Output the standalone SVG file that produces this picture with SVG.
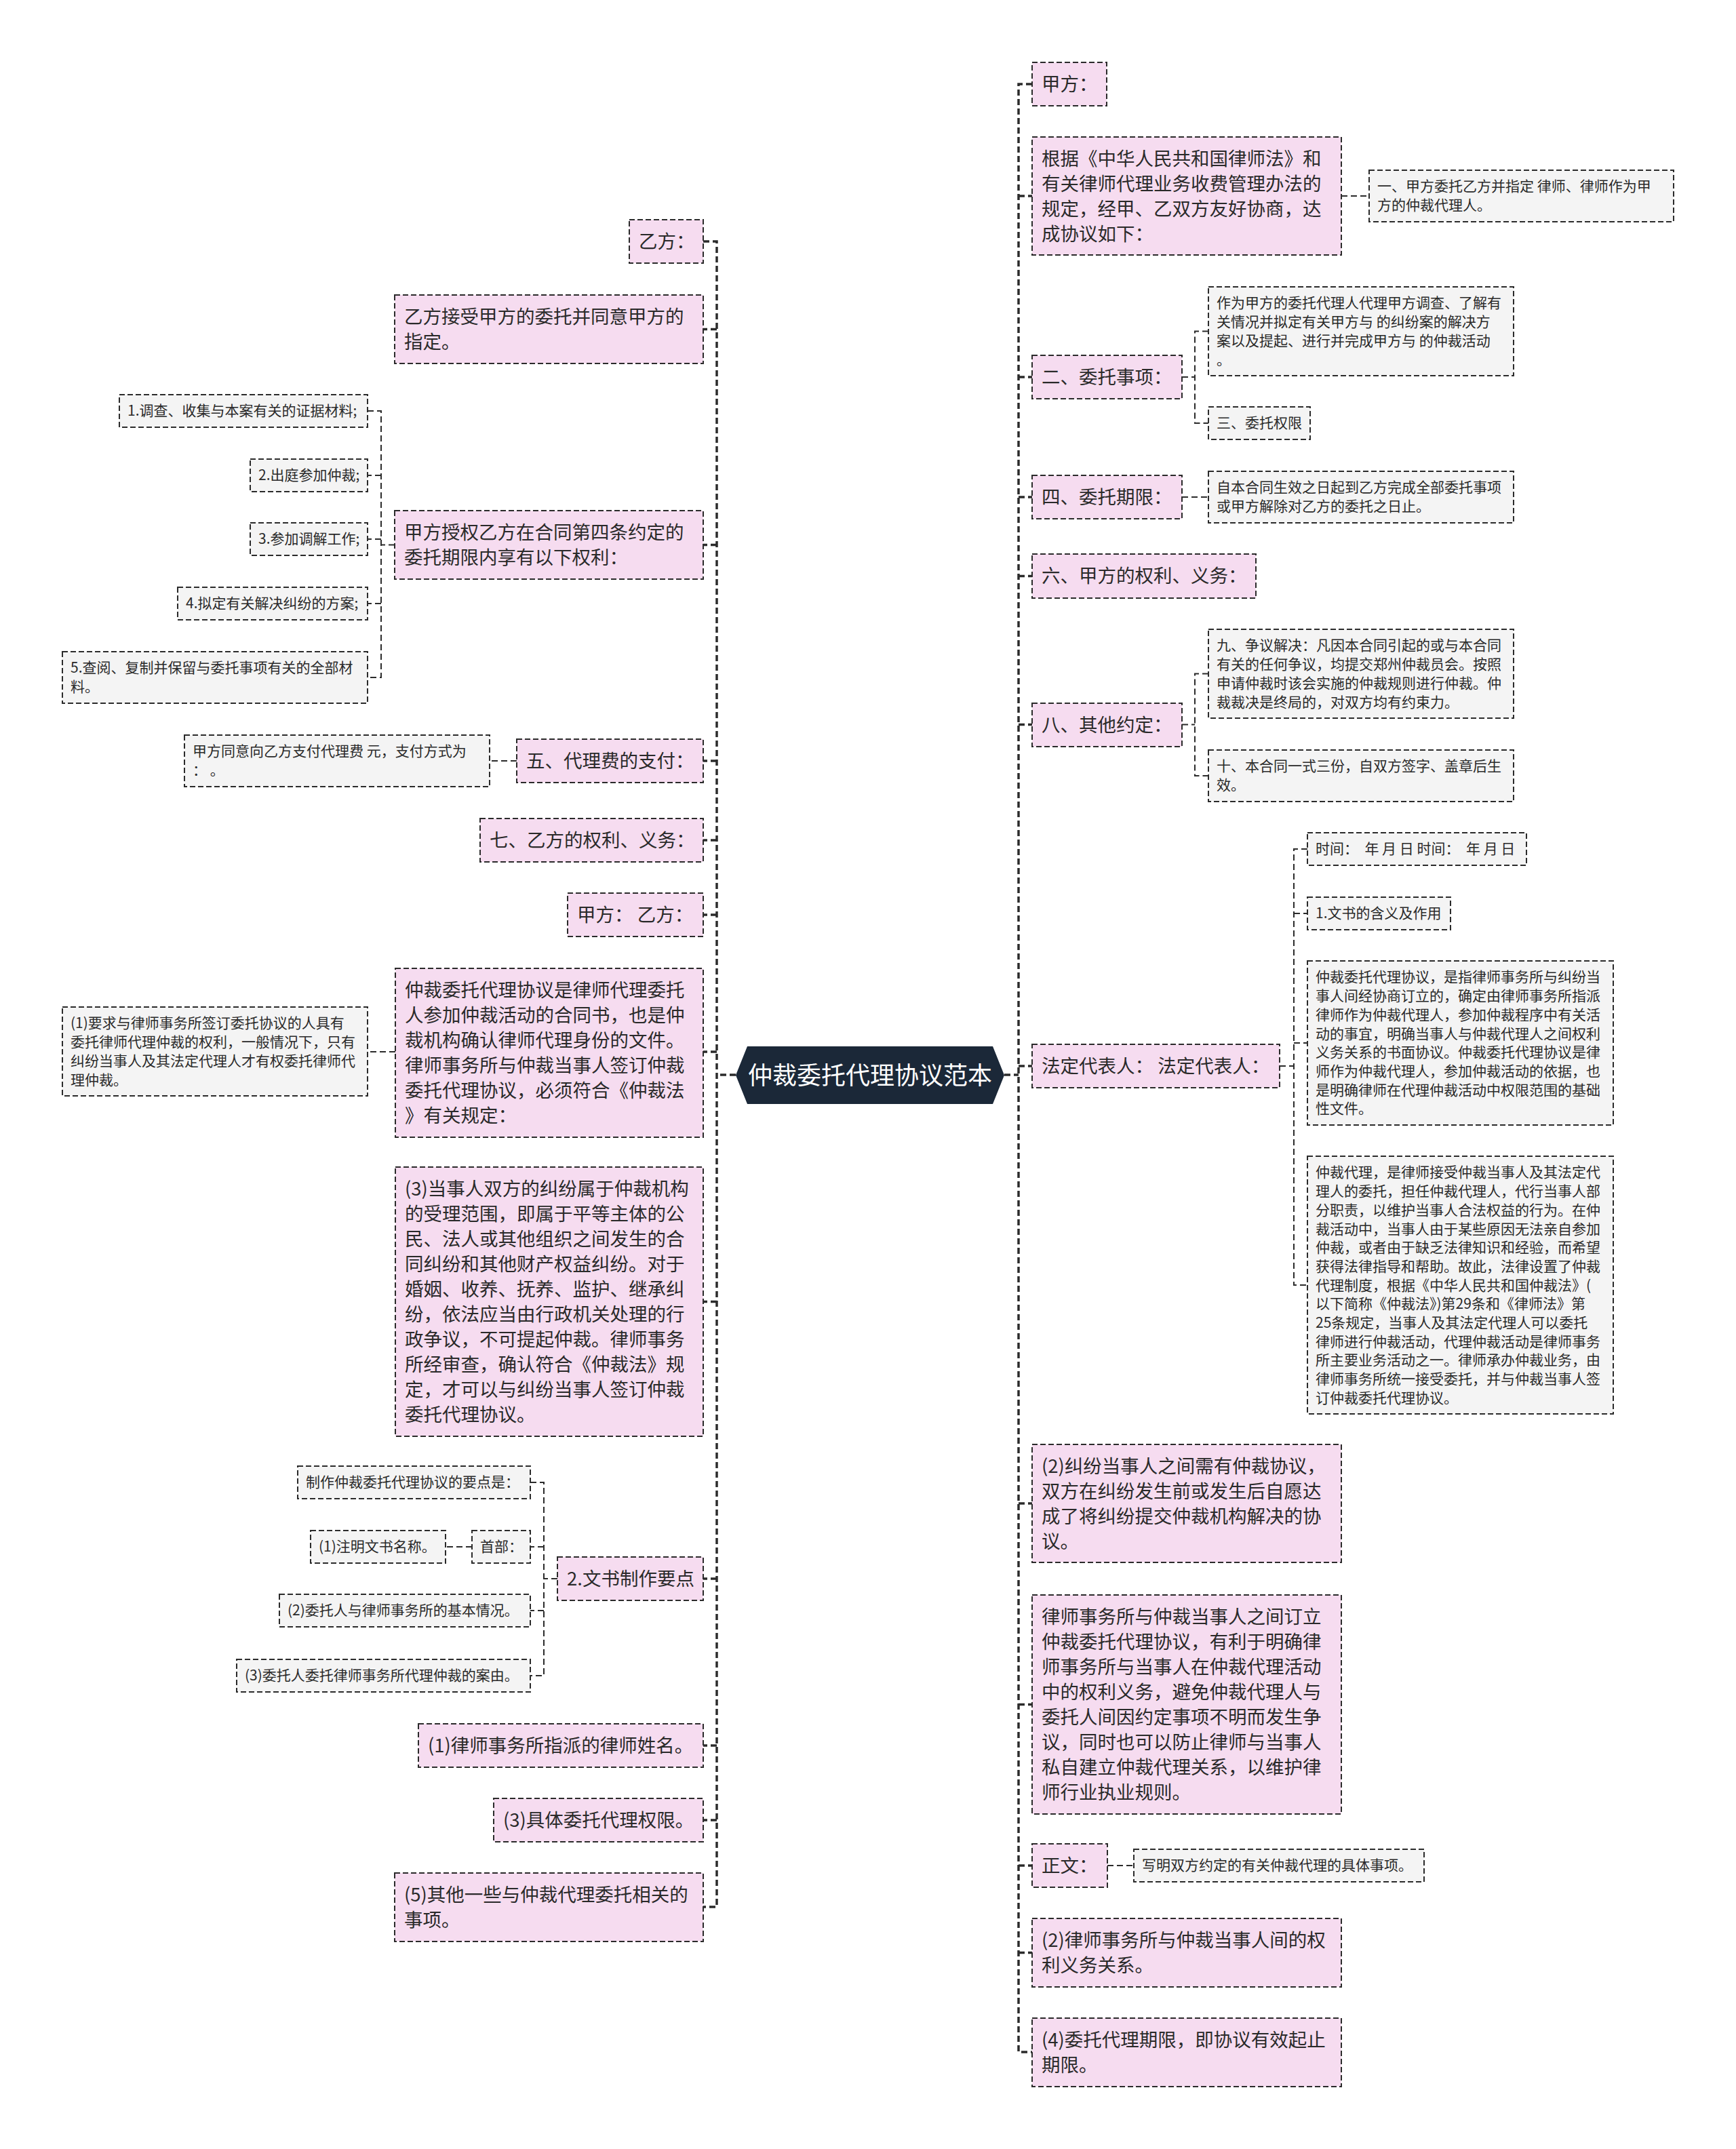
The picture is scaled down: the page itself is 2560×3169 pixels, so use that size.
<svg xmlns="http://www.w3.org/2000/svg" width="2560" height="3169" viewBox="0 0 2560 3169">
<style>
text{font-family:"Noto Sans CJK SC","Noto Sans",sans-serif;fill:#2a2a2a}
.tb{font-size:27.5px}
.ts{font-size:21px}
.p{fill:#f6dcf0;stroke:#2b2b2b;stroke-width:2;stroke-dasharray:8 4}
.g{fill:#f4f4f4;stroke:#2b2b2b;stroke-width:2;stroke-dasharray:8 4}
.trunk{fill:none;stroke:#2b2b2b;stroke-width:3.5;stroke-dasharray:9 5}
.ln{fill:none;stroke:#2b2b2b;stroke-width:2;stroke-dasharray:9 5}
.ct{font-size:36px;fill:#ffffff}
</style>
<rect x="0" y="0" width="2560" height="3169" fill="#ffffff"/>
<g id="connectors">
<path class="trunk" d="M1522,124 H1502 V3026 H1523"/>
<path class="trunk" d="M1037,356 H1057 V2812 H1037"/>
<path class="trunk" d="M1481,1585 H1502 M1085,1585 H1057"/>
<path class="trunk" d="M1502,289 H1522 M1502,556 H1522 M1502,733 H1522 M1502,849.5 H1522 M1502,1068.5 H1522 M1502,1572 H1522 M1502,2217 H1522 M1502,2513.5 H1522 M1502,2751 H1522 M1502,2879.5 H1522"/>
<path class="trunk" d="M1057,485.5 H1037 M1057,803.5 H1037 M1057,1122 H1037 M1057,1239 H1037 M1057,1349 H1037 M1057,1551 H1037 M1057,1919.5 H1037 M1057,2328 H1037 M1057,2574 H1037 M1057,2684 H1037"/>
<path class="ln" d="M1978,289 H2019"/>
<path class="ln" d="M1743,556 H1762 M1782,488.5 H1762 V624 H1782"/>
<path class="ln" d="M1743,733 H1782"/>
<path class="ln" d="M1743,1068.5 H1762 M1782,993.5 H1762 V1144 H1782"/>
<path class="ln" d="M1887,1572 H1908 M1928,1252 H1908 V1895 H1928 M1908,1347 H1928 M1908,1538 H1928"/>
<path class="ln" d="M1633,2751 H1672"/>
<path class="ln" d="M582,803.5 H562 M542,606 H562 V999 H542 M562,701 H542 M562,795 H542 M562,890 H542"/>
<path class="ln" d="M762,1122 H722"/>
<path class="ln" d="M583,1551 H542"/>
<path class="ln" d="M822,2328 H802 M782,2186 H802 V2471 H782 M802,2281 H782 M802,2375 H782"/>
<path class="ln" d="M696,2281 H657"/>
</g>
<g id="center">
<path d="M1085,1585.5 L1102,1543 H1464 L1481,1585.5 L1464,1628 H1102 Z" fill="#1b2838"/>
<text class="ct" x="1283" y="1598.5" text-anchor="middle">仲裁委托代理协议范本</text>
</g>
<g id="r-jiafang"><rect class="p" x="1522" y="92" width="110" height="64"/><text class="tb"><tspan x="1536" y="134">甲方：</tspan></text></g>
<g id="r-genju"><rect class="p" x="1522" y="202" width="456" height="174"/><text class="tb"><tspan x="1536" y="244">根据《中华人民共和国律师法》和</tspan><tspan x="1536" y="281">有关律师代理业务收费管理办法的</tspan><tspan x="1536" y="318">规定，经甲、乙双方友好协商，达</tspan><tspan x="1536" y="355">成协议如下：</tspan></text></g>
<g id="r-yi"><rect class="g" x="2019" y="251" width="449" height="76"/><text class="ts"><tspan x="2031" y="282.4">一、甲方委托乙方并指定 律师、律师作为甲</tspan><tspan x="2031" y="310.1">方的仲裁代理人。</tspan></text></g>
<g id="r-er"><rect class="p" x="1522" y="524" width="221" height="64"/><text class="tb"><tspan x="1536" y="566">二、委托事项：</tspan></text></g>
<g id="r-zuowei"><rect class="g" x="1782" y="423" width="450" height="131"/><text class="ts"><tspan x="1794" y="454.4">作为甲方的委托代理人代理甲方调查、了解有</tspan><tspan x="1794" y="482.1">关情况并拟定有关甲方与 的纠纷案的解决方</tspan><tspan x="1794" y="509.8">案以及提起、进行并完成甲方与 的仲裁活动</tspan><tspan x="1794" y="537.5">。</tspan></text></g>
<g id="r-san"><rect class="g" x="1782" y="600" width="150" height="48"/><text class="ts"><tspan x="1794" y="631.4">三、委托权限</tspan></text></g>
<g id="r-si"><rect class="p" x="1522" y="701" width="221" height="64"/><text class="tb"><tspan x="1536" y="743">四、委托期限：</tspan></text></g>
<g id="r-zibenhetong"><rect class="g" x="1782" y="695" width="450" height="76"/><text class="ts"><tspan x="1794" y="726.4">自本合同生效之日起到乙方完成全部委托事项</tspan><tspan x="1794" y="754.1">或甲方解除对乙方的委托之日止。</tspan></text></g>
<g id="r-liu"><rect class="p" x="1522" y="817" width="330" height="65"/><text class="tb"><tspan x="1536" y="859">六、甲方的权利、义务：</tspan></text></g>
<g id="r-ba"><rect class="p" x="1522" y="1037" width="221" height="64"/><text class="tb"><tspan x="1536" y="1079">八、其他约定：</tspan></text></g>
<g id="r-jiu"><rect class="g" x="1782" y="928" width="450" height="131"/><text class="ts"><tspan x="1794" y="959.4">九、争议解决：凡因本合同引起的或与本合同</tspan><tspan x="1794" y="987.1">有关的任何争议，均提交郑州仲裁员会。按照</tspan><tspan x="1794" y="1014.8">申请仲裁时该会实施的仲裁规则进行仲裁。仲</tspan><tspan x="1794" y="1042.5">裁裁决是终局的，对双方均有约束力。</tspan></text></g>
<g id="r-shi"><rect class="g" x="1782" y="1106" width="450" height="76"/><text class="ts"><tspan x="1794" y="1137.4">十、本合同一式三份，自双方签字、盖章后生</tspan><tspan x="1794" y="1165.1">效。</tspan></text></g>
<g id="r-fading"><rect class="p" x="1522" y="1540" width="365" height="64"/><text class="tb"><tspan x="1536" y="1582">法定代表人： 法定代表人：</tspan></text></g>
<g id="r-shijian"><rect class="g" x="1928" y="1228" width="323" height="48"/><text class="ts" xml:space="preserve"><tspan x="1940" y="1259.4">时间：  年 月 日 时间：  年 月 日</tspan></text></g>
<g id="r-wenshu1"><rect class="g" x="1928" y="1323" width="211" height="48"/><text class="ts"><tspan x="1940" y="1354.4">1.文书的含义及作用</tspan></text></g>
<g id="r-xieyi-def"><rect class="g" x="1928" y="1417" width="451" height="242"/><text class="ts"><tspan x="1940" y="1448.4">仲裁委托代理协议，是指律师事务所与纠纷当</tspan><tspan x="1940" y="1476.1">事人间经协商订立的，确定由律师事务所指派</tspan><tspan x="1940" y="1503.8">律师作为仲裁代理人，参加仲裁程序中有关活</tspan><tspan x="1940" y="1531.5">动的事宜，明确当事人与仲裁代理人之间权利</tspan><tspan x="1940" y="1559.2">义务关系的书面协议。仲裁委托代理协议是律</tspan><tspan x="1940" y="1586.9">师作为仲裁代理人，参加仲裁活动的依据，也</tspan><tspan x="1940" y="1614.6">是明确律师在代理仲裁活动中权限范围的基础</tspan><tspan x="1940" y="1642.3">性文件。</tspan></text></g>
<g id="r-daili-def"><rect class="g" x="1928" y="1705" width="451" height="380"/><text class="ts"><tspan x="1940" y="1736.4">仲裁代理，是律师接受仲裁当事人及其法定代</tspan><tspan x="1940" y="1764.1">理人的委托，担任仲裁代理人，代行当事人部</tspan><tspan x="1940" y="1791.8">分职责，以维护当事人合法权益的行为。在仲</tspan><tspan x="1940" y="1819.5">裁活动中，当事人由于某些原因无法亲自参加</tspan><tspan x="1940" y="1847.2">仲裁，或者由于缺乏法律知识和经验，而希望</tspan><tspan x="1940" y="1874.9">获得法律指导和帮助。故此，法律设置了仲裁</tspan><tspan x="1940" y="1902.6">代理制度，根据《中华人民共和国仲裁法》(</tspan><tspan x="1940" y="1930.3">以下简称《仲裁法》)第29条和《律师法》第</tspan><tspan x="1940" y="1958">25条规定，当事人及其法定代理人可以委托</tspan><tspan x="1940" y="1985.7">律师进行仲裁活动，代理仲裁活动是律师事务</tspan><tspan x="1940" y="2013.4">所主要业务活动之一。律师承办仲裁业务，由</tspan><tspan x="1940" y="2041.1">律师事务所统一接受委托，并与仲裁当事人签</tspan><tspan x="1940" y="2068.8">订仲裁委托代理协议。</tspan></text></g>
<g id="r-jiufen2"><rect class="p" x="1522" y="2130" width="456" height="174"/><text class="tb"><tspan x="1536" y="2172">(2)纠纷当事人之间需有仲裁协议，</tspan><tspan x="1536" y="2209">双方在纠纷发生前或发生后自愿达</tspan><tspan x="1536" y="2246">成了将纠纷提交仲裁机构解决的协</tspan><tspan x="1536" y="2283">议。</tspan></text></g>
<g id="r-lvshi"><rect class="p" x="1522" y="2352" width="456" height="323"/><text class="tb"><tspan x="1536" y="2394">律师事务所与仲裁当事人之间订立</tspan><tspan x="1536" y="2431">仲裁委托代理协议，有利于明确律</tspan><tspan x="1536" y="2468">师事务所与当事人在仲裁代理活动</tspan><tspan x="1536" y="2505">中的权利义务，避免仲裁代理人与</tspan><tspan x="1536" y="2542">委托人间因约定事项不明而发生争</tspan><tspan x="1536" y="2579">议，同时也可以防止律师与当事人</tspan><tspan x="1536" y="2616">私自建立仲裁代理关系，以维护律</tspan><tspan x="1536" y="2653">师行业执业规则。</tspan></text></g>
<g id="r-zhengwen"><rect class="p" x="1522" y="2719" width="111" height="64"/><text class="tb"><tspan x="1536" y="2761">正文：</tspan></text></g>
<g id="r-xieming"><rect class="g" x="1672" y="2727" width="428" height="48"/><text class="ts"><tspan x="1684" y="2758.4">写明双方约定的有关仲裁代理的具体事项。</tspan></text></g>
<g id="r-quanli2"><rect class="p" x="1522" y="2829" width="456" height="101"/><text class="tb"><tspan x="1536" y="2871">(2)律师事务所与仲裁当事人间的权</tspan><tspan x="1536" y="2908">利义务关系。</tspan></text></g>
<g id="r-qixian4"><rect class="p" x="1522" y="2976" width="456" height="101"/><text class="tb"><tspan x="1536" y="3018">(4)委托代理期限，即协议有效起止</tspan><tspan x="1536" y="3055">期限。</tspan></text></g>
<g id="l-yifang"><rect class="p" x="928" y="324" width="109" height="64"/><text class="tb"><tspan x="942" y="366">乙方：</tspan></text></g>
<g id="l-jieshou"><rect class="p" x="582" y="435" width="455" height="101"/><text class="tb"><tspan x="596" y="477">乙方接受甲方的委托并同意甲方的</tspan><tspan x="596" y="514">指定。</tspan></text></g>
<g id="l-shouquan"><rect class="p" x="582" y="753" width="455" height="101"/><text class="tb"><tspan x="596" y="795">甲方授权乙方在合同第四条约定的</tspan><tspan x="596" y="832">委托期限内享有以下权利：</tspan></text></g>
<g id="l-q1"><rect class="g" x="176" y="582" width="366" height="48"/><text class="ts"><tspan x="188" y="613.4">1.调查、收集与本案有关的证据材料;</tspan></text></g>
<g id="l-q2"><rect class="g" x="369" y="677" width="173" height="48"/><text class="ts"><tspan x="381" y="708.4">2.出庭参加仲裁;</tspan></text></g>
<g id="l-q3"><rect class="g" x="369" y="771" width="173" height="48"/><text class="ts"><tspan x="381" y="802.4">3.参加调解工作;</tspan></text></g>
<g id="l-q4"><rect class="g" x="262" y="866" width="280" height="48"/><text class="ts"><tspan x="274" y="897.4">4.拟定有关解决纠纷的方案;</tspan></text></g>
<g id="l-q5"><rect class="g" x="92" y="961" width="450" height="76"/><text class="ts"><tspan x="104" y="992.4">5.查阅、复制并保留与委托事项有关的全部材</tspan><tspan x="104" y="1020.1">料。</tspan></text></g>
<g id="l-wu"><rect class="p" x="762" y="1090" width="275" height="64"/><text class="tb"><tspan x="776" y="1132">五、代理费的支付：</tspan></text></g>
<g id="l-tongyi"><rect class="g" x="272" y="1084" width="450" height="76"/><text class="ts"><tspan x="284" y="1115.4">甲方同意向乙方支付代理费 元，支付方式为</tspan><tspan x="284" y="1143.1">： 。</tspan></text></g>
<g id="l-qi"><rect class="p" x="708" y="1207" width="329" height="64"/><text class="tb"><tspan x="722" y="1249">七、乙方的权利、义务：</tspan></text></g>
<g id="l-jiayi"><rect class="p" x="837" y="1317" width="200" height="64"/><text class="tb"><tspan x="851" y="1359">甲方： 乙方：</tspan></text></g>
<g id="l-xieyishi"><rect class="p" x="583" y="1428" width="454" height="249"/><text class="tb"><tspan x="597" y="1470">仲裁委托代理协议是律师代理委托</tspan><tspan x="597" y="1507">人参加仲裁活动的合同书，也是仲</tspan><tspan x="597" y="1544">裁机构确认律师代理身份的文件。</tspan><tspan x="597" y="1581">律师事务所与仲裁当事人签订仲裁</tspan><tspan x="597" y="1618">委托代理协议，必须符合《仲裁法</tspan><tspan x="597" y="1655">》有关规定：</tspan></text></g>
<g id="l-yaoqiu1"><rect class="g" x="92" y="1485" width="450" height="131"/><text class="ts"><tspan x="104" y="1516.4">(1)要求与律师事务所签订委托协议的人具有</tspan><tspan x="104" y="1544.1">委托律师代理仲裁的权利，一般情况下，只有</tspan><tspan x="104" y="1571.8">纠纷当事人及其法定代理人才有权委托律师代</tspan><tspan x="104" y="1599.5">理仲裁。</tspan></text></g>
<g id="l-dangshiren3"><rect class="p" x="583" y="1721" width="454" height="397"/><text class="tb"><tspan x="597" y="1763">(3)当事人双方的纠纷属于仲裁机构</tspan><tspan x="597" y="1800">的受理范围，即属于平等主体的公</tspan><tspan x="597" y="1837">民、法人或其他组织之间发生的合</tspan><tspan x="597" y="1874">同纠纷和其他财产权益纠纷。对于</tspan><tspan x="597" y="1911">婚姻、收养、抚养、监护、继承纠</tspan><tspan x="597" y="1948">纷，依法应当由行政机关处理的行</tspan><tspan x="597" y="1985">政争议，不可提起仲裁。律师事务</tspan><tspan x="597" y="2022">所经审查，确认符合《仲裁法》规</tspan><tspan x="597" y="2059">定，才可以与纠纷当事人签订仲裁</tspan><tspan x="597" y="2096">委托代理协议。</tspan></text></g>
<g id="l-wenshu2"><rect class="p" x="822" y="2296" width="215" height="64"/><text class="tb"><tspan x="836" y="2338">2.文书制作要点</tspan></text></g>
<g id="l-zhizuo"><rect class="g" x="439" y="2162" width="343" height="48"/><text class="ts"><tspan x="451" y="2193.4">制作仲裁委托代理协议的要点是：</tspan></text></g>
<g id="l-shoubu"><rect class="g" x="696" y="2257" width="86" height="48"/><text class="ts"><tspan x="708" y="2288.4">首部：</tspan></text></g>
<g id="l-zhuming"><rect class="g" x="458" y="2257" width="199" height="48"/><text class="ts"><tspan x="470" y="2288.4">(1)注明文书名称。</tspan></text></g>
<g id="l-weituoren2"><rect class="g" x="412" y="2351" width="370" height="48"/><text class="ts"><tspan x="424" y="2382.4">(2)委托人与律师事务所的基本情况。</tspan></text></g>
<g id="l-weituoren3"><rect class="g" x="349" y="2447" width="433" height="48"/><text class="ts"><tspan x="361" y="2478.4">(3)委托人委托律师事务所代理仲裁的案由。</tspan></text></g>
<g id="l-xingming"><rect class="p" x="617" y="2542" width="420" height="64"/><text class="tb"><tspan x="631" y="2584">(1)律师事务所指派的律师姓名。</tspan></text></g>
<g id="l-quanxian"><rect class="p" x="728" y="2652" width="309" height="64"/><text class="tb"><tspan x="742" y="2694">(3)具体委托代理权限。</tspan></text></g>
<g id="l-qita"><rect class="p" x="582" y="2762" width="455" height="101"/><text class="tb"><tspan x="596" y="2804">(5)其他一些与仲裁代理委托相关的</tspan><tspan x="596" y="2841">事项。</tspan></text></g>
</svg>
